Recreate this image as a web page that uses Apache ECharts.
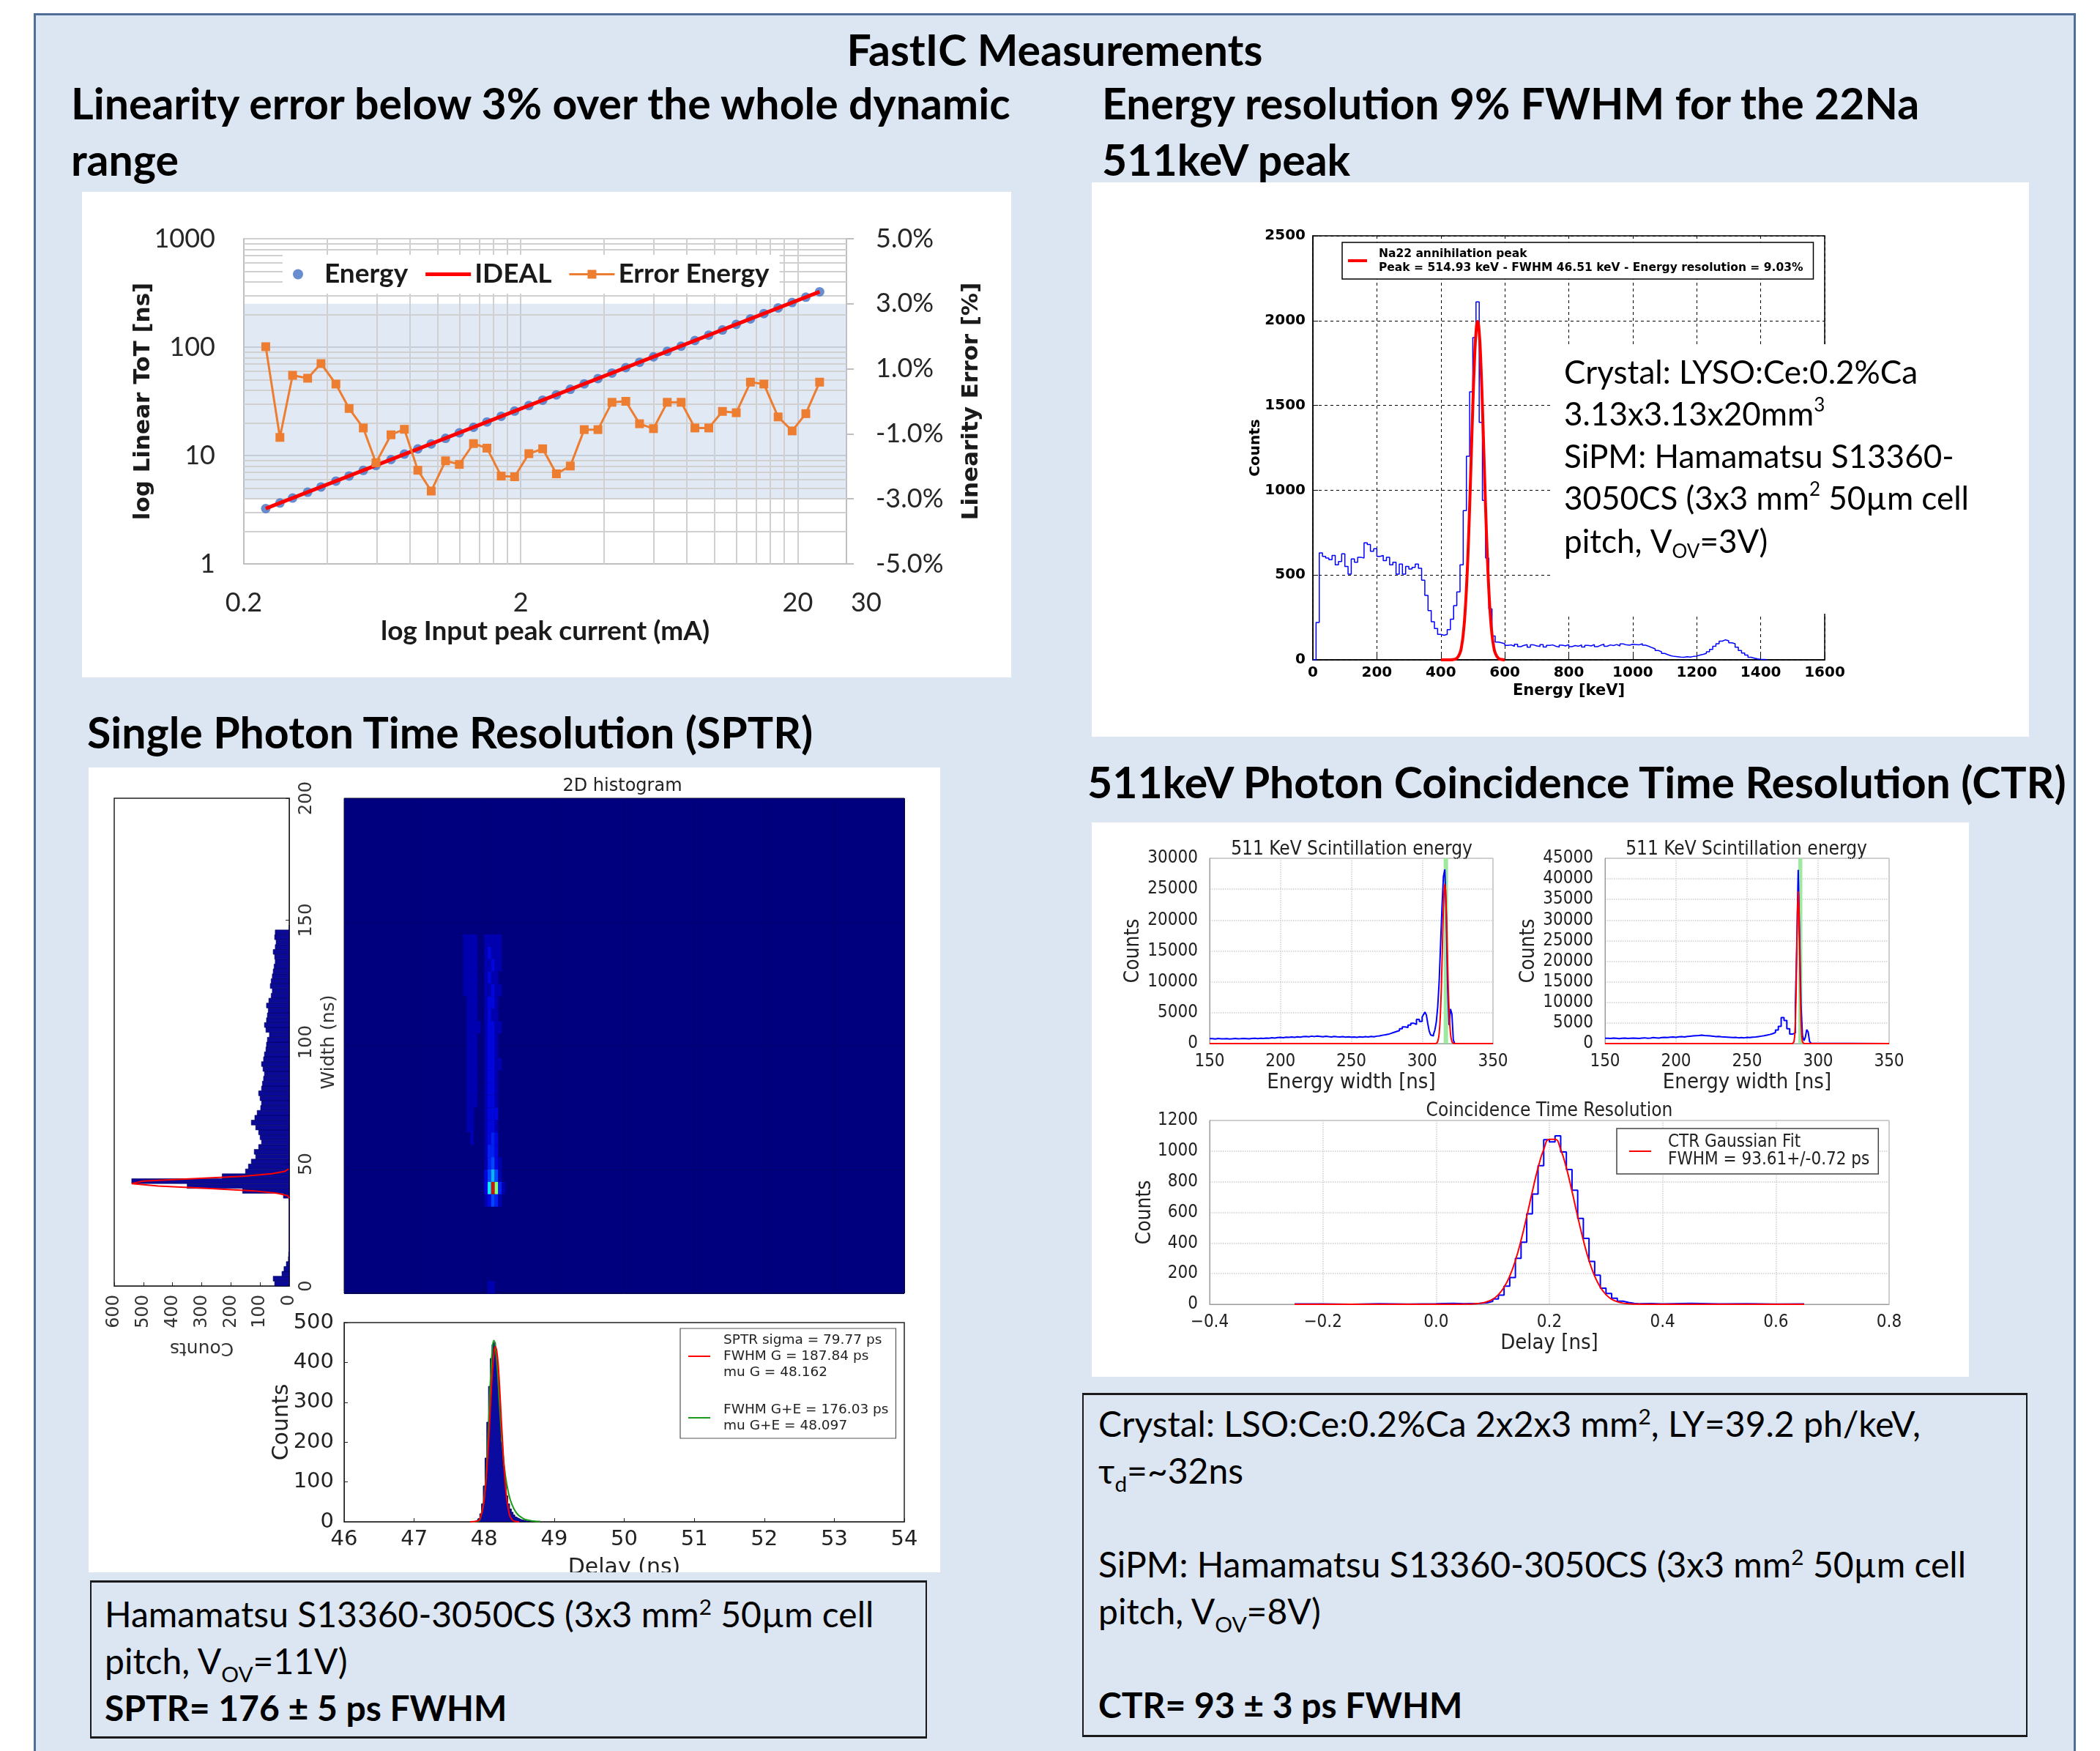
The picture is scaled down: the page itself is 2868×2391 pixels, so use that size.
<!DOCTYPE html>
<html>
<head>
<meta charset="UTF-8">
<title>FastIC Measurements</title>
<script src="https://cdn.jsdelivr.net/npm/echarts@6.0.0/dist/echarts.min.js"></script>
<style>
  body { margin: 0; width: 2868px; height: 2391px; position: relative; overflow: hidden; background: #fff; font-family: Lato, "Open Sans", sans-serif; color: #000; }
  #frame { position: absolute; left: 46px; top: 18px; width: 2789px; height: 2400px; background: #dce6f2; border: 3px solid #4f6f99; box-sizing: border-box; }
  .head { position: absolute; font-size: 59px; font-weight: bold; height: 70px; line-height: 70px; white-space: nowrap; }
  .panel { position: absolute; background: #fff; }
  .box { position: absolute; box-sizing: border-box; border: 2px solid #1a1a1a; border-top-width: 3px; border-bottom-width: 3px; }
  .line { position: absolute; font-size: 48px; height: 64px; line-height: 64px; white-space: nowrap; }
  sup, sub { font-size: 62%; line-height: 0; }
</style>
</head>
<body>
<div id="frame"></div>

<div class="head" style="left:46px;width:2789px;text-align:center;top:33px">FastIC Measurements</div>
<div class="head" style="left:97px;top:106px">Linearity error below 3% over the whole dynamic</div>
<div class="head" style="left:97px;top:183px">range</div>
<div class="head" style="left:1505px;top:106px">Energy resolution 9% FWHM for the 22Na</div>
<div class="head" style="left:1505px;top:183px">511keV peak</div>
<div class="head" style="left:119px;top:965px">Single Photon Time Resolution (SPTR)</div>
<div class="head" style="left:1485px;top:1033px">511keV Photon Coincidence Time Resolution (CTR)</div>

<div id="panelA" class="panel" style="left:112px;top:262px;width:1269px;height:663px"></div>
<div id="panelB" class="panel" style="left:1491px;top:249px;width:1280px;height:757px"></div>
<div id="panelC" class="panel" style="left:121px;top:1048px;width:1163px;height:1099px"></div>
<div id="panelD" class="panel" style="left:1491px;top:1123px;width:1198px;height:757px"></div>

<div class="box" style="left:123px;top:2158px;width:1143px;height:216px"></div>
<div class="line" style="left:143px;top:2172px">Hamamatsu S13360-3050CS (3x3 mm<sup>2</sup> 50µm cell</div>
<div class="line" style="left:143px;top:2236px">pitch, V<sub>OV</sub>=11V)</div>
<div class="line" style="left:143px;top:2300px;font-weight:bold">SPTR= 176 ± 5 ps FWHM</div>

<div class="box" style="left:1478px;top:1902px;width:1291px;height:470px"></div>
<div class="line" style="left:1500px;top:1912px">Crystal: LSO:Ce:0.2%Ca 2x2x3 mm<sup>2</sup>, LY=39.2 ph/keV,</div>
<div class="line" style="left:1500px;top:1976px">τ<sub>d</sub>=~32ns</div>
<div class="line" style="left:1500px;top:2104px">SiPM: Hamamatsu S13360-3050CS (3x3 mm<sup>2</sup> 50µm cell</div>
<div class="line" style="left:1500px;top:2168px">pitch, V<sub>OV</sub>=8V)</div>
<div class="line" style="left:1500px;top:2296px;font-weight:bold">CTR= 93 ± 3 ps FWHM</div>

<script>
// ---- linearity (ToT vs input current)
var LIN_X_MIN = 0.2, LIN_X_MAX = 30;
var LIN_CURRENT = [0.24,0.27,0.30,0.34,0.38,0.43,0.48,0.54,0.60,0.68,0.76,0.85,0.95,1.07,1.20,1.35,1.51,1.70,1.90,2.14,2.40,2.69,3.02,3.39,3.80,4.27,4.79,5.37,6.03,6.76,7.59,8.51,9.55,10.7,12.0,13.5,15.1,17.0,19.1,21.4,24.0];
var LIN_TOT = [3.24,3.65,4.05,4.59,5.13,5.81,6.48,7.29,8.10,9.18,10.3,11.5,12.8,14.4,16.2,18.2,20.4,23.0,25.7,28.9,32.4,36.3,40.8,45.8,51.3,57.6,64.7,72.5,81.4,91.3,102,115,129,144,162,182,204,230,258,289,324];
var LIN_ERR = [1.68,-1.11,0.80,0.71,1.16,0.53,-0.22,-0.82,-1.89,-1.03,-0.86,-2.12,-2.76,-1.83,-1.94,-1.30,-1.44,-2.30,-2.32,-1.61,-1.46,-2.23,-1.99,-0.87,-0.87,-0.03,0.00,-0.69,-0.84,-0.03,-0.03,-0.82,-0.82,-0.31,-0.35,0.59,0.53,-0.48,-0.91,-0.38,0.59];
var IDEAL_CURRENT = [0.24, 24.0];
var IDEAL_TOT = [3.24, 324];
var LIN_GRID_X = [0.4,0.6,0.8,1,1.2,1.4,1.6,1.8,4,6,8,10,12,14,16,18];
var LIN_GRID_Y = [2,3,4,5,6,7,8,9,20,30,40,50,60,70,80,90,200,300,400,500,600,700,800,900];

// ---- 22Na energy spectrum
var ENERGY_BIN_START = 0, ENERGY_BIN_WIDTH = 10;
var ENERGY_COUNTS = [
  0,220,630,610,600,590,615,560,580,625,
  550,505,595,575,605,600,690,680,640,655,
  610,615,585,605,560,575,505,565,505,550,
  535,545,565,540,470,380,290,225,185,150,
  145,150,178,240,320,400,560,880,1200,1580,
  1900,2110,1400,940,600,300,140,105,100,95,
  85,88,80,92,78,85,90,75,88,82,
  79,90,76,85,88,80,75,86,82,90,
  78,84,80,88,76,85,82,90,78,86,
  92,80,88,84,90,82,94,88,86,92,
  90,88,95,86,80,72,65,55,48,38,
  30,24,20,18,16,15,18,16,20,22,
  28,32,38,48,62,80,95,110,118,112,
  100,95,75,55,40,28,15,10,5,3,
  2,1,0];
var ENERGY_FIT_KEV = [400,430,440,450,460,465,470,475,480,485,490,495,500,505,510,515,520,525,530,535,540,545,550,555,560,565,570,580,590,600];
var ENERGY_FIT_COUNTS = [0,0,2,9,41,81,149,257,415,629,896,1195,1495,1755,1932,1995,1932,1755,1495,1195,896,629,415,257,149,81,41,9,2,0];

// ---- SPTR
var SPTR_WIDTH_BIN = 2;
var SPTR_WIDTH_COUNTS = [
  50,55,25,18,10,3,2,0,0,0,
  0,0,0,0,0,0,0,0,20,160,
  350,540,230,150,140,130,115,120,105,95,
  100,105,115,130,118,110,98,95,100,105,
  95,92,88,85,90,95,88,85,80,78,
  75,68,80,85,78,75,72,78,70,62,
  58,65,62,58,55,52,48,50,55,48,
  45,50,48,0];
var SPTR_WFIT_WIDTH = [36,37,38,39,40,41,42,42.5,43,44,45,46,47,48];
var SPTR_WFIT_COUNTS = [0,5,40,120,280,450,540,545,500,330,160,60,15,2];

var HEAT_D_START = 47.65, HEAT_D_STEP = 0.05, HEAT_W_STEP = 5;
var HEAT_ROW_WIDTH = [140,135,130,125,120,115,110,105,100,95,90,85,80,75,70,65,60,55,50,45,40,35,0];
var HEAT_ROWS = [
  [0,1,1,1,1,0,0,1,1,1,1,1,0,0],
  [0,1,1,1,1,0,0,1,2,1,1,1,0,0],
  [0,1,1,1,1,0,0,1,1,2,1,1,0,0],
  [0,1,1,1,1,0,0,1,2,1,1,0,0,0],
  [0,1,1,1,1,0,0,1,1,2,1,1,0,0],
  [0,0,1,1,1,0,0,1,2,2,1,0,0,0],
  [0,0,1,1,1,0,0,1,2,1,1,0,0,0],
  [0,0,1,1,1,1,0,1,2,2,1,1,0,0],
  [0,0,1,1,1,0,0,1,2,2,1,0,0,0],
  [0,0,1,1,1,0,0,1,2,2,1,0,0,0],
  [0,0,1,1,1,0,0,1,2,2,1,1,0,0],
  [0,0,1,1,1,0,0,1,2,2,1,0,0,0],
  [0,0,1,1,1,0,0,1,2,2,1,0,0,0],
  [0,0,1,1,1,0,0,1,2,2,1,0,0,0],
  [0,0,1,1,0,0,0,1,2,2,2,0,0,0],
  [0,0,1,1,0,0,0,1,2,2,1,0,0,0],
  [0,0,0,1,0,0,0,1,2,3,2,0,0,0],
  [0,0,0,0,0,0,0,1,3,3,2,0,0,0],
  [0,0,0,0,0,0,0,1,3,4,2,1,0,0],
  [0,0,0,0,0,0,0,2,4,6,4,1,0,0],
  [0,0,0,0,0,0,0,2,7,15,9,3,1,0],
  [0,0,0,0,0,0,0,1,2,4,3,1,0,0],
  [0,0,0,0,0,0,0,0,1,1,0,0,0,0]];

var SPTR_DELAY = [47.850,47.875,47.900,47.925,47.950,47.975,48.000,48.025,48.050,48.075,48.100,48.125,48.150,48.175,48.200,48.225,48.250,48.275,48.300,48.325,48.350,48.375,48.400,48.425,48.450,48.475,48.500,48.525,48.550,48.575,48.600,48.625,48.650,48.675,48.700];
var SPTR_DELAY_COUNTS = [0,0,3,8,20,45,90,160,250,340,410,445,450,420,360,280,200,140,95,65,45,32,24,17,12,9,7,5,4,3,2,2,1,1,0];
var SPTR_G_X = [47.80,47.90,47.95,48.00,48.05,48.10,48.13,48.162,48.19,48.22,48.25,48.30,48.35,48.40,48.45,48.50];
var SPTR_G_Y = [0,2,13,56,164,325,406,440,414,338,240,99,27,5,1,0];
var SPTR_GE_X = [47.80,47.90,47.95,48.00,48.05,48.10,48.14,48.18,48.22,48.26,48.30,48.35,48.40,48.45,48.50,48.55,48.60,48.70,48.80];
var SPTR_GE_Y = [0,1,12,60,190,390,455,400,290,190,120,70,42,25,15,9,5,2,1];

// ---- CTR: energy spectra of the two channels and the delay histogram
var CTR_A_X = [150,152,154,156,158,160,162,164,166,168,170,172,174,176,178,180,182,184,186,188,190,192,194,196,198,200,202,204,206,208,210,212,214,216,218,220,222,224,226,228,230,232,234,236,238,240,242,244,246,248,250,252,254,256,258,260,262,264,266,268,270,272,274,276,278,280,282,284,286,288,290,292,294,296,298,300,301,302,303,304,305,306,307,308,309,310,311,312,313,314,315,316,317,318,319,320,321,322,323,350];
var CTR_A_Y = [800,750,820,780,760,800,740,780,820,760,790,830,800,760,820,850,800,870,830,900,860,940,900,980,1000,950,1040,1000,1080,1020,1100,1050,1120,1160,1100,1200,1140,1220,1160,1100,1180,1120,1080,1150,1100,1060,1120,1050,1100,1040,1080,1020,1100,1050,1120,1080,1150,1100,1200,1250,1350,1420,1500,1650,1800,1950,2100,2400,2700,2600,3000,3300,3100,3900,3600,4300,4700,5100,4600,3200,2000,1400,1250,1500,2200,3500,6000,10000,16000,22000,27000,28200,21000,9000,3000,5600,4800,600,0,0];
var CTR_A_FIT_X = [150,308,309,310,311,312,313,314,315,316,317,318,319,320,321,322,323,324,350];
var CTR_A_FIT_Y = [0,0,5,50,341,1620,5440,12900,21700,25800,21700,12900,5440,1620,341,50,5,0,0];
var CTR_A_BAND = [315.2, 318.3];

var CTR_B_X = [150,152,154,156,158,160,162,164,166,168,170,172,174,176,178,180,182,184,186,188,190,192,194,196,198,200,202,204,206,208,210,212,214,216,218,220,222,224,226,228,230,232,234,236,238,240,242,244,246,248,250,252,254,256,258,260,262,264,266,268,270,272,274,276,278,280,282,283,284,285,286,287,288,289,290,291,292,293,294,295,296,350];
var CTR_B_Y = [1300,1250,1350,1300,1200,1300,1350,1250,1300,1350,1300,1250,1350,1400,1300,1350,1450,1400,1350,1450,1500,1450,1550,1600,1500,1650,1700,1600,1750,1800,1850,1900,1950,2050,1950,1900,1850,1800,1700,1750,1650,1600,1550,1500,1450,1500,1400,1450,1400,1500,1450,1550,1600,1700,1800,1900,2050,2200,2400,2700,3300,4200,6300,5600,3600,2300,2000,2600,9000,24000,42200,26000,9000,2000,700,1500,3400,2800,500,100,0,0];
var CTR_B_FIT_X = [150,282,283,283.5,284,284.5,285,285.5,286,286.5,287,287.5,288,288.5,289,290,350];
var CTR_B_FIT_Y = [0,0,410,1620,5000,12000,22400,32600,37000,32600,22400,12000,5000,1620,410,0,0];
var CTR_B_BAND = [286.1, 288.9];

var CTR_DELAY = [-0.25,-0.20,-0.15,-0.10,-0.05,0.00,0.03,0.05,0.06,0.07,0.08,0.09,0.10,0.11,0.12,0.13,0.14,0.15,0.16,0.17,0.18,0.19,0.20,0.21,0.22,0.23,0.24,0.25,0.26,0.27,0.28,0.29,0.30,0.31,0.32,0.33,0.34,0.35,0.36,0.38,0.40,0.45,0.50,0.55,0.60,0.65];
var CTR_COUNTS = [2,0,3,1,4,6,3,5,4,7,10,19,35,60,118,175,300,405,590,720,905,1075,1060,1100,995,880,745,560,430,280,190,105,70,40,20,12,6,3,5,2,6,2,3,1,2,0];
var CTR_FIT_X = [-0.25,0.04,0.05,0.06,0.07,0.08,0.09,0.10,0.11,0.12,0.13,0.14,0.15,0.16,0.17,0.18,0.19,0.20,0.21,0.22,0.23,0.24,0.25,0.26,0.27,0.28,0.29,0.30,0.31,0.32,0.33,0.34,0.35,0.36,0.37,0.65];
var CTR_FIT_Y = [0,0,0.6,1.4,3.4,7.8,17,33,63,111,184,286,418,573,737,891,1010,1077,1077,1010,891,737,573,418,286,184,111,63,33,17,7.8,3.4,1.4,0.6,0,0];

var CAL = 'Lato, "Open Sans", sans-serif';
var MPL = '"DejaVu Sans", sans-serif';
var NARROW = '"Liberation Sans Narrow", "DejaVu Sans Condensed", "Liberation Sans", sans-serif';
var plain = function (v) { return String(v); };

function pairs(xs, ys) {
  return xs.map(function (x, i) { return [x, ys[i]]; });
}
// fixed plot boxes: do not let echarts shrink them to keep names inside
function box(left, top, width, height, extra) {
  var g = { left: left, top: top, width: width, height: height, outerBoundsMode: 'none', containLabel: false };
  for (var k in (extra || {})) g[k] = extra[k];
  return g;
}

// ================= panel A: linearity =================
var lx = function (mA) { return Math.log10(mA / LIN_X_MIN); };
var chartA = echarts.init(document.getElementById('panelA'));
chartA.setOption({
  animation: false,
  grid: box(221, 64, 823, 444),
  legend: {
    data: [
      { name: 'Energy', icon: 'circle' },
      { name: 'IDEAL', icon: 'path://M0,0H62V5H0Z' },
      { name: 'Error Energy', icon: 'path://M0,5H62V8H0Z M25,0.5H37V12.5H25Z' }
    ],
    z: 20, left: 274, top: 86, padding: [8, 14, 8, 14],
    backgroundColor: '#fff', itemGap: 24, itemWidth: 62, itemHeight: 14,
    textStyle: { fontFamily: CAL, fontSize: 37, fontWeight: 'bold', color: '#1a1a1a' }
  },
  xAxis: {
    type: 'value', min: 0, max: lx(LIN_X_MAX), interval: 1,
    axisLine: { onZero: false, lineStyle: { color: '#bfbfbf', width: 2 } },
    axisTick: { show: false },
    axisLabel: {
      margin: 35, fontSize: 36, fontFamily: CAL, color: '#262626',
      formatter: function (v) {
        var mA = LIN_X_MIN * Math.pow(10, v);
        var txt = mA < 1 ? mA.toFixed(1) : String(Math.round(mA));
        return v > 2.1 ? '{edge|' + txt + '}' : txt;
      },
      rich: { edge: { padding: [0, 0, 0, 54], fontSize: 36, fontFamily: CAL, color: '#262626' } }
    },
    splitLine: { lineStyle: { color: '#d0d0d0', width: 2 } },
    name: 'log Input peak current (mA)', nameLocation: 'middle', nameGap: 74, nameMoveOverlap: false,
    nameTextStyle: { fontFamily: CAL, fontSize: 37, fontWeight: 'bold', color: '#1a1a1a' }
  },
  yAxis: [{
    type: 'log', logBase: 10, min: 1, max: 1000,
    axisLine: { show: true, onZero: false, lineStyle: { color: '#bfbfbf', width: 2 } },
    axisTick: { show: false },
    axisLabel: { margin: 39, fontSize: 36, fontFamily: CAL, color: '#262626', formatter: plain },
    splitLine: { lineStyle: { color: '#d0d0d0', width: 2 } },
    name: 'log Linear ToT [ns]', nameLocation: 'middle', nameGap: 122, nameMoveOverlap: false,
    nameTextStyle: { fontFamily: MPL, fontSize: 31, fontWeight: 'bold', color: '#1a1a1a' }
  }, {
    type: 'value', min: -5, max: 5, interval: 1, position: 'right',
    axisLine: { show: true, onZero: false, lineStyle: { color: '#bfbfbf', width: 2 } },
    axisTick: { show: true, length: 10, customValues: [-5, -3, -1, 1, 3, 5], lineStyle: { color: '#bfbfbf', width: 2 } },
    axisLabel: {
      margin: 40, fontSize: 36, fontFamily: CAL, color: '#262626',
      customValues: [-5, -3, -1, 1, 3, 5],
      formatter: function (v) { return Math.abs(Math.round(v)) % 2 === 1 ? v.toFixed(1) + '%' : ''; }
    },
    splitLine: { show: false },
    name: 'Linearity Error [%]', nameLocation: 'middle', nameGap: 155, nameRotate: 90, nameMoveOverlap: false,
    nameTextStyle: { fontFamily: MPL, fontSize: 31, fontWeight: 'bold', color: '#1a1a1a' }
  }],
  series: [{
    // band of +-3% linearity error
    type: 'line', yAxisIndex: 1, data: [], z: 1, silent: true,
    markArea: { silent: true, z: 1, itemStyle: { color: 'rgba(175,196,230,0.38)' }, data: [[{ yAxis: -3 }, { yAxis: 3 }]] }
  }, {
    // minor log gridlines
    type: 'line', yAxisIndex: 0, data: [], z: 1, silent: true,
    markLine: {
      silent: true, z: 1, symbol: ['none', 'none'], label: { show: false },
      lineStyle: { color: '#d0d0d0', width: 2, type: 'solid' },
      data: LIN_GRID_X.map(function (v) { return { xAxis: lx(v) }; })
        .concat(LIN_GRID_Y.map(function (v) { return { yAxis: v }; }))
    }
  }, {
    name: 'Energy', type: 'scatter', yAxisIndex: 0, symbolSize: 13, z: 3,
    itemStyle: { color: '#4472c4' },
    data: LIN_CURRENT.map(function (c, i) { return [lx(c), LIN_TOT[i]]; })
  }, {
    name: 'IDEAL', type: 'line', yAxisIndex: 0, symbol: 'none', z: 4,
    lineStyle: { color: '#ff0000', width: 5 }, itemStyle: { color: '#ff0000' },
    data: IDEAL_CURRENT.map(function (c, i) { return [lx(c), IDEAL_TOT[i]]; })
  }, {
    name: 'Error Energy', type: 'line', yAxisIndex: 1, symbol: 'rect', symbolSize: 12, z: 5,
    lineStyle: { color: '#ed7d31', width: 3 }, itemStyle: { color: '#ed7d31' },
    data: LIN_CURRENT.map(function (c, i) { return [lx(c), LIN_ERR[i]]; })
  }]
});

// ================= panel B: energy spectrum =================
var energyHist = ENERGY_COUNTS.map(function (v, i) { return [ENERGY_BIN_START + i * ENERGY_BIN_WIDTH, v]; });
var RICH_B = {
  sup: { fontSize: 26, fontFamily: CAL, verticalAlign: 'top', fill: '#000' },
  sub: { fontSize: 26, fontFamily: CAL, verticalAlign: 'bottom', fill: '#000' }
};
function noteLine(y, text) {
  return {
    type: 'text', x: 645, y: y, z: 101,
    style: { text: text, fontSize: 44, fontFamily: CAL, lineHeight: 52, fill: '#000', verticalAlign: 'middle', rich: RICH_B }
  };
}
var chartB = echarts.init(document.getElementById('panelB'));
chartB.setOption({
  animation: false,
  grid: box(302, 73, 699, 579, { show: true, borderColor: '#000', borderWidth: 1.5 }),
  legend: {
    data: [{ name: 'Na22 annihilation peak', icon: 'path://M0,0H26V4H0Z' }],
    z: 20, left: 342, top: 82, padding: [6, 14, 6, 8],
    backgroundColor: '#fff', borderColor: '#000', borderWidth: 1.5, borderRadius: 0,
    itemWidth: 26, itemHeight: 12,
    formatter: function () { return 'Na22 annihilation peak\nPeak = 514.93 keV - FWHM 46.51 keV - Energy resolution = 9.03%'; },
    textStyle: { fontFamily: MPL, fontSize: 15.5, fontWeight: 'bold', lineHeight: 19, color: '#000', padding: [0, 0, 0, 11] }
  },
  xAxis: {
    type: 'value', min: 0, max: 1600, interval: 200,
    axisLine: { onZero: false, lineStyle: { color: '#000', width: 1.5 } },
    axisTick: { inside: true, length: 7, lineStyle: { color: '#000' } },
    axisLabel: { margin: 8, fontSize: 20, fontWeight: 'bold', fontFamily: MPL, color: '#000', formatter: plain },
    splitLine: { lineStyle: { color: '#000', width: 1, type: [4, 4] } },
    name: 'Energy [keV]', nameLocation: 'middle', nameGap: 32, nameMoveOverlap: false,
    nameTextStyle: { fontSize: 21, fontWeight: 'bold', fontFamily: MPL, color: '#000' }
  },
  yAxis: {
    type: 'value', min: 0, max: 2500, interval: 500,
    axisLine: { onZero: false, lineStyle: { color: '#000', width: 1.5 } },
    axisTick: { inside: true, length: 7, lineStyle: { color: '#000' } },
    axisLabel: { margin: 10, fontSize: 20, fontWeight: 'bold', fontFamily: MPL, color: '#000', formatter: plain },
    splitLine: { lineStyle: { color: '#000', width: 1, type: [4, 4] } },
    name: 'Counts', nameLocation: 'middle', nameGap: 68, nameMoveOverlap: false,
    nameTextStyle: { fontSize: 20, fontWeight: 'bold', fontFamily: MPL, color: '#000' }
  },
  series: [{
    name: 'spectrum', type: 'line', step: 'end', symbol: 'none', z: 2,
    lineStyle: { color: '#0000ff', width: 1.5 },
    data: energyHist
  }, {
    name: 'Na22 annihilation peak', type: 'line', smooth: true, symbol: 'none', z: 3,
    lineStyle: { color: '#ff0000', width: 4 }, itemStyle: { color: '#ff0000' },
    data: pairs(ENERGY_FIT_KEV, ENERGY_FIT_COUNTS)
  }],
  graphic: [
    { type: 'rect', z: 100, shape: { x: 626, y: 221, width: 580, height: 368 }, style: { fill: '#fff' } },
    noteLine(261, 'Crystal: LYSO:Ce:0.2%Ca'),
    noteLine(318, '3.13x3.13x20mm{sup|3}'),
    noteLine(376, 'SiPM: Hamamatsu S13360-'),
    noteLine(433, '3050CS (3x3 mm{sup|2} 50µm cell'),
    noteLine(492, 'pitch, V{sub|OV}=3V)')
  ]
});

// ================= panel C: SPTR =================
var widthHist = SPTR_WIDTH_COUNTS.map(function (c, i) { return [c, i * SPTR_WIDTH_BIN]; });
var heatCells = [];
HEAT_ROWS.forEach(function (row, r) {
  row.forEach(function (v, c) {
    if (v > 0) heatCells.push([HEAT_D_START + c * HEAT_D_STEP, HEAT_ROW_WIDTH[r], v]);
  });
});
var chartC = echarts.init(document.getElementById('panelC'));
chartC.setOption({
  animation: false,
  grid: [
    box(35, 42, 239, 666, { show: true, borderColor: '#222', borderWidth: 1.5 }),
    box(349, 42, 765, 676, { show: true, backgroundColor: '#00007f', borderColor: '#111', borderWidth: 1 }),
    box(349, 758, 765, 272, { show: true, borderColor: '#222', borderWidth: 1.5 })
  ],
  xAxis: [{
    gridIndex: 0, type: 'value', min: 0, max: 600, interval: 100, inverse: true,
    axisLine: { onZero: false, lineStyle: { color: '#222' } }, axisTick: { inside: true, length: 5 },
    axisLabel: { rotate: 90, margin: 12, fontSize: 24, fontFamily: MPL, color: '#333' },
    splitLine: { show: false },
    name: 'Counts', nameLocation: 'middle', nameGap: 72, nameRotate: 180, nameMoveOverlap: false,
    nameTextStyle: { fontSize: 25, fontFamily: MPL, color: '#333' }
  }, {
    gridIndex: 1, type: 'value', min: 46, max: 54, interval: 1,
    axisLine: { show: false }, axisTick: { show: false }, axisLabel: { show: false },
    splitLine: { lineStyle: { color: '#00006a', width: 1 } }
  }, {
    gridIndex: 2, type: 'value', min: 46, max: 54, interval: 1,
    axisLine: { onZero: false, lineStyle: { color: '#222' } }, axisTick: { inside: true, length: 5 },
    axisLabel: { margin: 10, fontSize: 29, fontFamily: MPL, color: '#222' },
    splitLine: { show: false },
    name: 'Delay (ns)', nameLocation: 'middle', nameGap: 48, nameMoveOverlap: false,
    nameTextStyle: { fontSize: 30, fontFamily: MPL, color: '#222' }
  }],
  yAxis: [{
    gridIndex: 0, type: 'value', min: 0, max: 200, interval: 50, position: 'right',
    axisLine: { onZero: false, lineStyle: { color: '#222' } }, axisTick: { inside: true, length: 5 },
    axisLabel: { rotate: 90, margin: 12, fontSize: 24, fontFamily: MPL, color: '#333' },
    splitLine: { show: false },
    name: 'Width (ns)', nameLocation: 'middle', nameGap: 42, nameRotate: 90, nameMoveOverlap: false,
    nameTextStyle: { fontSize: 25, fontFamily: MPL, color: '#333' }
  }, {
    gridIndex: 1, type: 'value', min: 0, max: 200, interval: 50,
    axisLine: { show: false }, axisTick: { show: false }, axisLabel: { show: false },
    splitLine: { lineStyle: { color: '#00006a', width: 1 } }
  }, {
    gridIndex: 2, type: 'value', min: 0, max: 500, interval: 100,
    axisLine: { onZero: false, lineStyle: { color: '#222' } }, axisTick: { inside: true, length: 5 },
    axisLabel: { margin: 14, fontSize: 29, fontFamily: MPL, color: '#222' },
    splitLine: { show: false },
    name: 'Counts', nameLocation: 'middle', nameGap: 70, nameMoveOverlap: false,
    nameTextStyle: { fontSize: 30, fontFamily: MPL, color: '#222' }
  }],
  visualMap: {
    show: false, type: 'continuous', seriesIndex: 2, dimension: 2, min: 0, max: 16,
    inRange: { color: ['#00007f', '#0000d8', '#0030ff', '#0090ff', '#10f0ff', '#80ff80', '#f0ff10', '#ff9000', '#ff2000', '#a00000'] }
  },
  legend: {
    data: [
      { name: 'FWHM G', icon: 'path://M0,0H30V2H0Z' },
      { name: 'FWHM G+E', icon: 'path://M0,0H30V2H0Z' }
    ],
    orient: 'vertical', z: 20,
    left: 808, top: 766, padding: [5, 10, 6, 11], itemGap: 29,
    backgroundColor: '#fff', borderColor: '#555', borderWidth: 1.2,
    itemWidth: 30, itemHeight: 10,
    formatter: function (name) {
      return name === 'FWHM G'
        ? 'SPTR sigma = 79.77 ps\nFWHM G = 187.84 ps\nmu G = 48.162'
        : 'FWHM G+E = 176.03 ps\nmu G+E = 48.097';
    },
    textStyle: { fontFamily: MPL, fontSize: 18.5, lineHeight: 22, color: '#222', padding: [0, 0, 0, 13] }
  },
  series: [{
    type: 'custom', xAxisIndex: 0, yAxisIndex: 0, encode: { x: 0, y: 1 },
    data: widthHist,
    renderItem: function (params, api) {
      var a = api.coord([0, api.value(1)]);
      var b = api.coord([api.value(0), api.value(1) + SPTR_WIDTH_BIN]);
      return {
        type: 'rect',
        shape: { x: Math.min(a[0], b[0]), y: Math.min(a[1], b[1]), width: Math.abs(a[0] - b[0]), height: Math.abs(a[1] - b[1]) },
        style: { fill: '#0a0a96', stroke: '#00005c', lineWidth: 0.6 }
      };
    }
  }, {
    type: 'line', xAxisIndex: 0, yAxisIndex: 0, symbol: 'none', z: 5,
    lineStyle: { color: '#ff0000', width: 2 },
    data: pairs(SPTR_WFIT_COUNTS, SPTR_WFIT_WIDTH)
  }, {
    type: 'custom', xAxisIndex: 1, yAxisIndex: 1, encode: { x: 0, y: 1 },
    data: heatCells,
    renderItem: function (params, api) {
      var a = api.coord([api.value(0), api.value(1) + HEAT_W_STEP]);
      var b = api.coord([api.value(0) + HEAT_D_STEP, api.value(1)]);
      return { type: 'rect', shape: { x: a[0], y: a[1], width: b[0] - a[0], height: b[1] - a[1] }, style: { fill: api.visual('color') } };
    }
  }, {
    type: 'line', xAxisIndex: 2, yAxisIndex: 2, step: 'middle', symbol: 'none', z: 2,
    lineStyle: { color: '#00005a', width: 1 },
    areaStyle: { color: '#0b0ba0', opacity: 1 },
    data: pairs(SPTR_DELAY, SPTR_DELAY_COUNTS)
  }, {
    name: 'FWHM G', type: 'line', xAxisIndex: 2, yAxisIndex: 2, smooth: true, symbol: 'none', z: 4,
    lineStyle: { color: '#ff0000', width: 2 }, itemStyle: { color: '#ff0000' },
    data: pairs(SPTR_G_X, SPTR_G_Y)
  }, {
    name: 'FWHM G+E', type: 'line', xAxisIndex: 2, yAxisIndex: 2, smooth: true, symbol: 'none', z: 3,
    lineStyle: { color: '#1a9a1a', width: 2 }, itemStyle: { color: '#1a9a1a' },
    data: pairs(SPTR_GE_X, SPTR_GE_Y)
  }],
  graphic: [{
    type: 'text', x: 729, y: 26,
    style: { text: '2D histogram', fontSize: 24, fontFamily: MPL, fill: '#222', align: 'center', verticalAlign: 'middle' }
  }]
});

// ================= panel D: CTR =================
function ctrX(gi, min, max, step, name, fmt) {
  return {
    gridIndex: gi, type: 'value', min: min, max: max, interval: step,
    axisLine: { onZero: false, lineStyle: { color: '#9a9a9a' } }, axisTick: { show: false },
    axisLabel: { margin: 13, fontSize: 24, fontFamily: NARROW, color: '#222', formatter: fmt || plain },
    splitLine: { lineStyle: { color: '#cfcfcf', type: 'dotted', width: 1.5 } },
    name: name, nameLocation: 'middle', nameGap: 39, nameMoveOverlap: false,
    nameTextStyle: { fontSize: 29, fontFamily: NARROW, color: '#222' }
  };
}
function ctrY(gi, max, step, gap) {
  return {
    gridIndex: gi, type: 'value', min: 0, max: max, interval: step,
    axisLine: { onZero: false, lineStyle: { color: '#9a9a9a' } }, axisTick: { show: false },
    axisLabel: { margin: 16, fontSize: 24, fontFamily: NARROW, color: '#222', formatter: plain },
    splitLine: { lineStyle: { color: '#cfcfcf', type: 'dotted', width: 1.5 } },
    name: 'Counts', nameLocation: 'middle', nameGap: gap, nameMoveOverlap: false,
    nameTextStyle: { fontSize: 28, fontFamily: NARROW, color: '#222' }
  };
}
function ctrTitle(x, y, text) {
  return { type: 'text', x: x, y: y, style: { text: text, fontSize: 26, fontFamily: NARROW, fill: '#222', align: 'center', verticalAlign: 'middle' } };
}
var delayFmt = function (v) { return (v < -1e-9 ? '\u2212' : '') + Math.abs(v).toFixed(1); };
var chartD = echarts.init(document.getElementById('panelD'));
chartD.setOption({
  animation: false,
  grid: [
    box(161, 49, 387, 253, { show: true, borderColor: '#9a9a9a', borderWidth: 1 }),
    box(701, 49, 388, 253, { show: true, borderColor: '#9a9a9a', borderWidth: 1 }),
    box(161, 407, 928, 251, { show: true, borderColor: '#9a9a9a', borderWidth: 1 })
  ],
  xAxis: [
    ctrX(0, 150, 350, 50, 'Energy width [ns]'),
    ctrX(1, 150, 350, 50, 'Energy width [ns]'),
    ctrX(2, -0.4, 0.8, 0.2, 'Delay [ns]', delayFmt)
  ],
  yAxis: [ctrY(0, 30000, 5000, 90), ctrY(1, 45000, 5000, 90), ctrY(2, 1200, 200, 74)],
  legend: {
    data: [{ name: 'CTR Gaussian Fit', icon: 'path://M0,0H30V2H0Z' }],
    z: 20, left: 717, top: 418, padding: [7, 12, 7, 17],
    backgroundColor: '#fff', borderColor: '#444', borderWidth: 1.5,
    itemWidth: 30, itemHeight: 10,
    formatter: function () { return 'CTR Gaussian Fit\nFWHM = 93.61+/-0.72 ps'; },
    textStyle: { fontFamily: NARROW, fontSize: 24, lineHeight: 24, color: '#222', padding: [0, 0, 0, 18] }
  },
  series: [{
    type: 'line', xAxisIndex: 0, yAxisIndex: 0, data: [], z: 1, silent: true,
    markArea: { silent: true, z: 1, itemStyle: { color: '#9fe89f' }, data: [[{ xAxis: CTR_A_BAND[0] }, { xAxis: CTR_A_BAND[1] }]] }
  }, {
    type: 'line', xAxisIndex: 0, yAxisIndex: 0, step: 'end', symbol: 'none', z: 2,
    lineStyle: { color: '#0000ff', width: 2 }, data: pairs(CTR_A_X, CTR_A_Y)
  }, {
    type: 'line', xAxisIndex: 0, yAxisIndex: 0, smooth: true, symbol: 'none', z: 3,
    lineStyle: { color: '#ff0000', width: 2 }, data: pairs(CTR_A_FIT_X, CTR_A_FIT_Y)
  }, {
    type: 'line', xAxisIndex: 1, yAxisIndex: 1, data: [], z: 1, silent: true,
    markArea: { silent: true, z: 1, itemStyle: { color: '#9fe89f' }, data: [[{ xAxis: CTR_B_BAND[0] }, { xAxis: CTR_B_BAND[1] }]] }
  }, {
    type: 'line', xAxisIndex: 1, yAxisIndex: 1, step: 'end', symbol: 'none', z: 2,
    lineStyle: { color: '#0000ff', width: 2 }, data: pairs(CTR_B_X, CTR_B_Y)
  }, {
    type: 'line', xAxisIndex: 1, yAxisIndex: 1, symbol: 'none', z: 3,
    lineStyle: { color: '#ff0000', width: 2 }, data: pairs(CTR_B_FIT_X, CTR_B_FIT_Y)
  }, {
    type: 'line', xAxisIndex: 2, yAxisIndex: 2, step: 'end', symbol: 'none', z: 2,
    lineStyle: { color: '#0000ff', width: 2 }, data: pairs(CTR_DELAY, CTR_COUNTS)
  }, {
    name: 'CTR Gaussian Fit', type: 'line', xAxisIndex: 2, yAxisIndex: 2, smooth: true, symbol: 'none', z: 3,
    lineStyle: { color: '#ff0000', width: 2 }, itemStyle: { color: '#ff0000' },
    data: pairs(CTR_FIT_X, CTR_FIT_Y)
  }],
  graphic: [
    ctrTitle(355, 37, '511 KeV Scintillation energy'),
    ctrTitle(894, 37, '511 KeV Scintillation energy'),
    ctrTitle(625, 394, 'Coincidence Time Resolution')
  ]
});
</script>
</body>
</html>
